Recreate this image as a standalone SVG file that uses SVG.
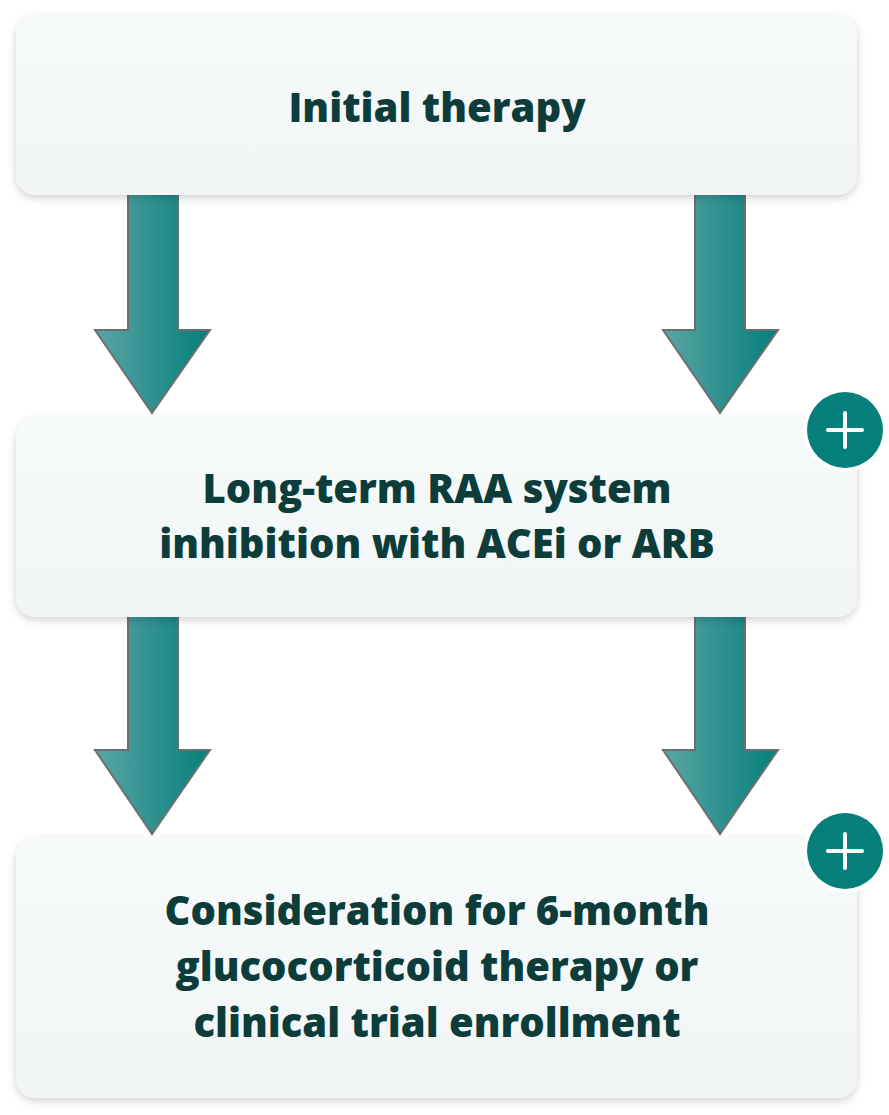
<svg xmlns="http://www.w3.org/2000/svg" width="889" height="1115" viewBox="0 0 889 1115">
<defs>
<linearGradient id="ag" x1="0" y1="0" x2="1" y2="0"><stop offset="0" stop-color="#5aa5a5"/><stop offset="1" stop-color="#057f7a"/></linearGradient>
<linearGradient id="bg" x1="0" y1="0" x2="0" y2="1"><stop offset="0" stop-color="#f7fafa"/><stop offset="1" stop-color="#f1f5f5"/></linearGradient>
<filter id="sh" x="-5%" y="-10%" width="110%" height="125%"><feDropShadow dx="0" dy="3" stdDeviation="4" flood-color="#000" flood-opacity="0.18"/></filter>
</defs>
<style>
.box{fill:url(#bg);filter:url(#sh)}
.t{font-family:"Open Sans","Liberation Sans",sans-serif;font-weight:800;font-size:40px;fill:#0d3d3a;text-anchor:middle}
.arr{fill:url(#ag);stroke:#6e6e6e;stroke-width:2}
</style>
<rect width="889" height="1115" fill="#fff"/>
<g id="connectors">
<path class="arr" d="M128,190 L178,190 L178,330 L210,330 L152,413 L95,330 L128,330 Z"/>
<path class="arr" d="M695,190 L745,190 L745,330 L778,330 L720,413 L663,330 L695,330 Z"/>
<path class="arr" d="M128,612 L178,612 L178,750 L210,750 L152,834 L95,750 L128,750 Z"/>
<path class="arr" d="M695,612 L745,612 L745,750 L778,750 L720,834 L663,750 L695,750 Z"/>
</g>
<g id="n1"><rect class="box" x="16" y="15" width="841" height="180" rx="20"/><text class="t" x="437" y="122">Initial therapy</text></g>
<g id="n2"><rect class="box" x="16" y="418" width="841" height="199" rx="20"/><text class="t" x="437" y="503">Long-term RAA system</text><text class="t" x="437" y="558">inhibition with ACEi or ARB</text></g>
<g id="n3"><rect class="box" x="16" y="838" width="841" height="260" rx="20"/><text class="t" x="437" y="925">Consideration for 6-month</text><text class="t" x="437" y="981">glucocorticoid therapy or</text><text class="t" x="437" y="1037">clinical trial enrollment</text></g>
<g id="plus1"><circle cx="845" cy="430" r="42" fill="#fff"/><circle cx="845" cy="430" r="38" fill="#057f7a"/><path d="M845,413 V447 M828,430 H862" stroke="#fff" stroke-width="4" stroke-linecap="round"/></g>
<g id="plus2"><circle cx="845" cy="851" r="42" fill="#fff"/><circle cx="845" cy="851" r="38" fill="#057f7a"/><path d="M845,834 V868 M828,851 H862" stroke="#fff" stroke-width="4" stroke-linecap="round"/></g>
</svg>
